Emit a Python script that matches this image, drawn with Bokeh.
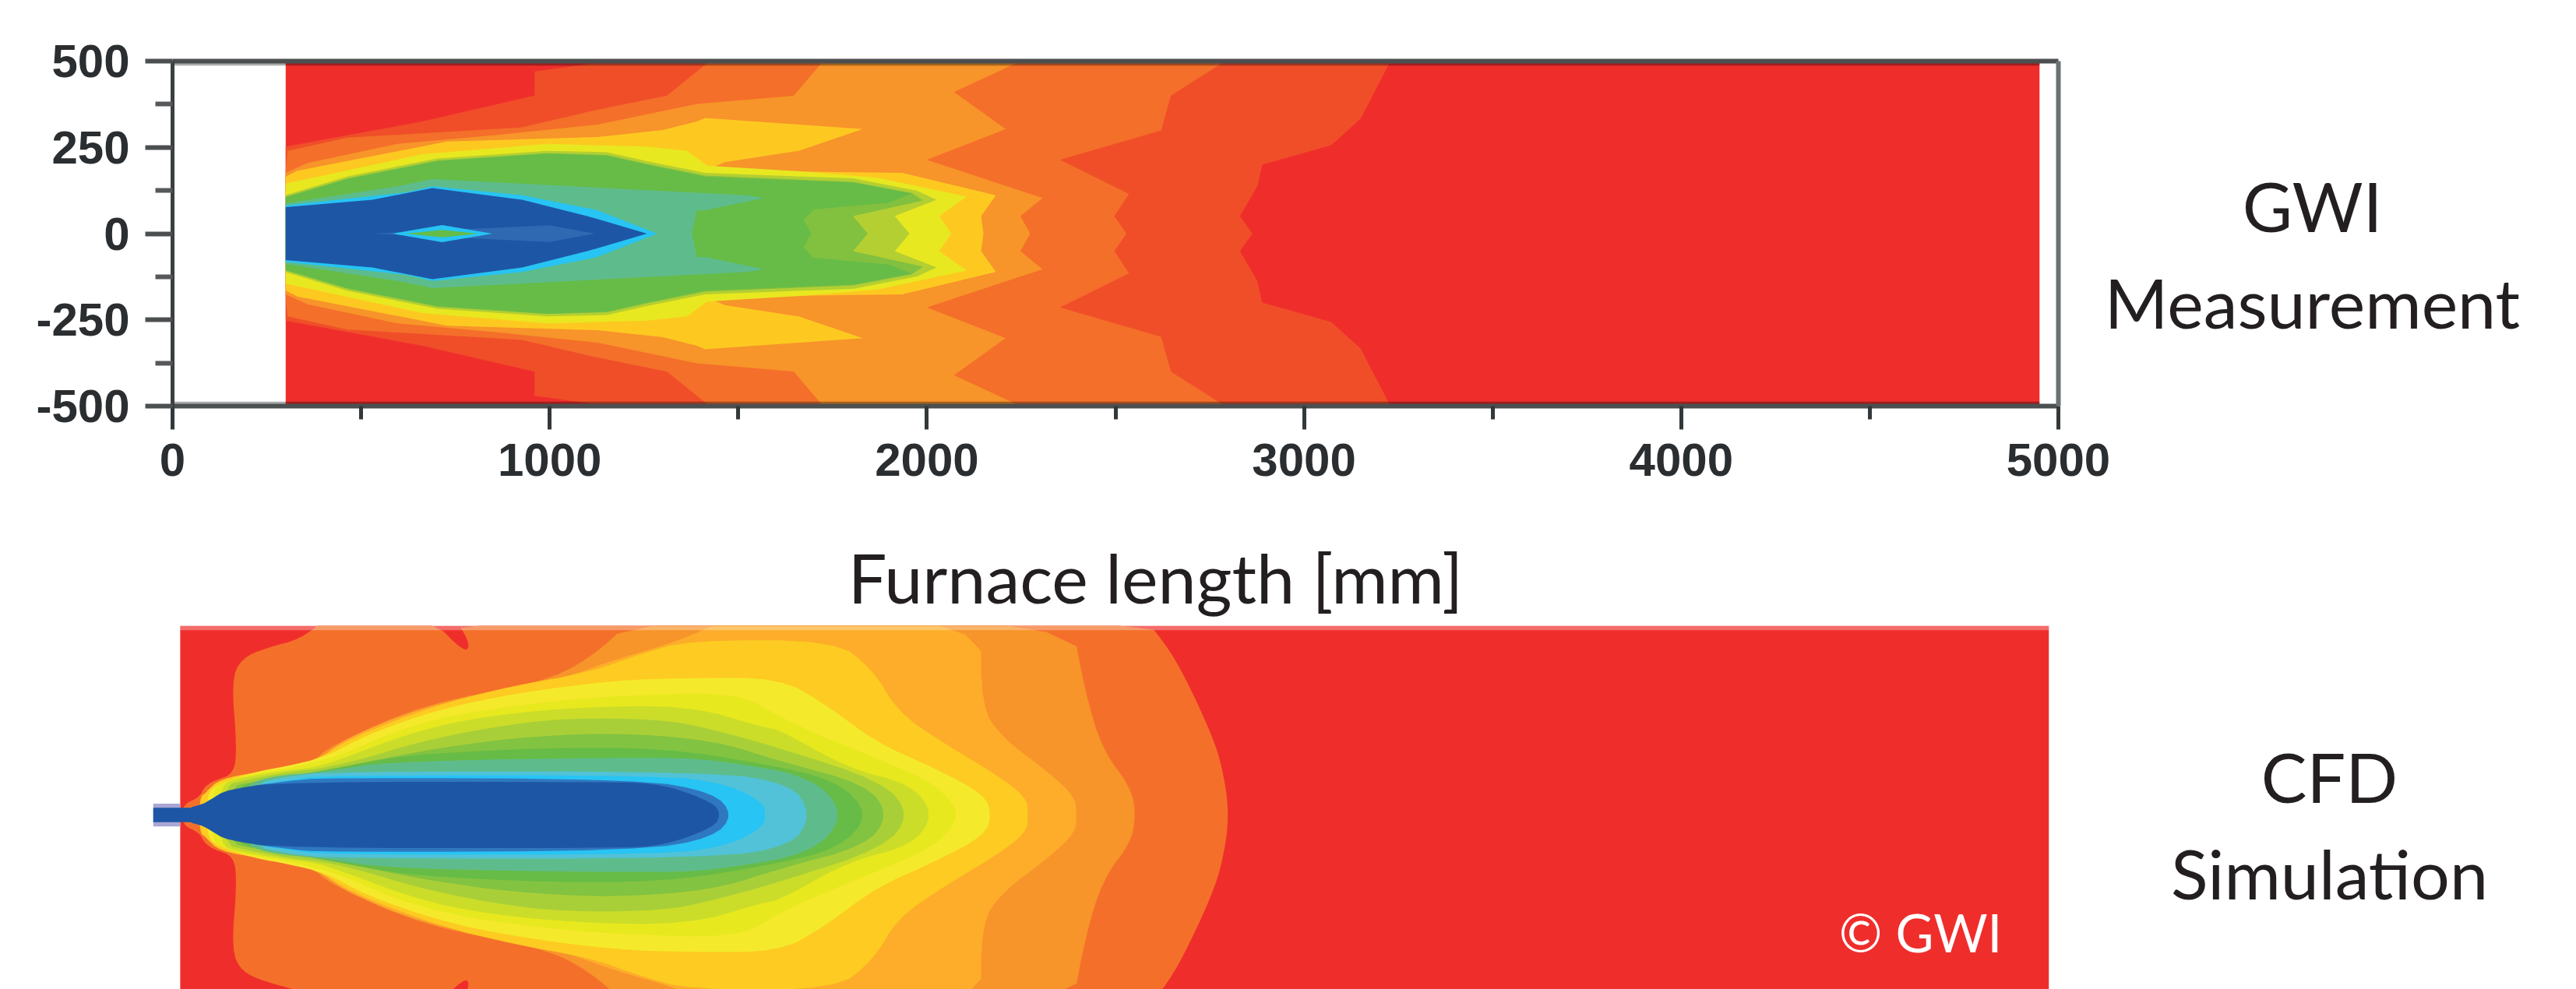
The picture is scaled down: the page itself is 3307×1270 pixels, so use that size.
from bokeh.plotting import figure
from bokeh.embed import file_html
from bokeh.resources import INLINE
from bokeh.layouts import column, row
from bokeh.models import LinearAxis, FixedTicker, Range1d
from bokeh.core.properties import value

# ---------- axis ticks ----------
x_major = [0, 1000, 2000, 3000, 4000, 5000]
x_minor = [500, 1500, 2500, 3500, 4500]
y_major = [-500, -250, 0, 250, 500]
y_minor = [-375, -125, 125, 375]
y_labels = {-500: "-500", -250: "-250", 0: "0", 250: "250", 500: "500"}

# ---------- GWI measurement: contour outlines, upper half (x mm, y mm) ----------
m_field_x = [300, 4950]
m_field_y = [-500, 500]
m1_x = [300, 662, 960, 960, 1132, 1300, 3229, 3150, 3072, 2889, 2876, 2830, 2863]
m1_y = [252, 325, 400, 470, 496, 500, 500, 333, 256, 200, 137, 51, 0]
m2_x = [300, 305, 464, 927, 1126, 1311, 1424, 2791, 2647, 2621, 2353, 2536, 2497, 2529]
m2_y = [184, 240, 278, 308, 359, 400, 500, 500, 400, 299, 214, 115, 51, 0]
m3_x = [300, 358, 596, 861, 1126, 1390, 1647, 1725, 2248, 2072, 2209, 2000, 2307, 2248, 2274]
m3_y = [176, 205, 260, 286, 316, 376, 400, 500, 500, 410, 303, 214, 103, 51, 0]
m4_x = [300, 331, 728, 1126, 1300, 1390, 1412, 1830, 1660, 1464, 1420, 1660, 1935, 2183, 2144, 2150]
m4_y = [165, 182, 267, 280, 300, 325, 335, 303, 240, 207, 186, 180, 176, 111, 51, 0]
m5_x = [300, 662, 993, 1258, 1364, 1417, 1673, 1869, 2105, 2033, 2065]
m5_y = [145, 230, 260, 252, 240, 197, 180, 162, 107, 51, 0]
m6_x = [300, 464, 702, 993, 1152, 1258, 1412, 1804, 1974, 2026, 1915, 1954]
m6_y = [112, 166, 218, 240, 236, 210, 176, 160, 124, 98, 51, 0]
m7_x = [300, 464, 702, 993, 1152, 1258, 1412, 1804, 1960, 1990, 1804, 1843]
m7_y = [107, 160, 212, 233, 228, 202, 168, 150, 118, 96, 51, 0]
m8_x = [300, 464, 702, 993, 1152, 1258, 1412, 1804, 1960, 1900, 1700, 1673, 1693]
m8_y = [105, 158, 210, 232, 226, 200, 165, 148, 116, 90, 70, 40, 0]
m9_x = [300, 596, 689, 993, 1523, 1569, 1412, 1390, 1377]
m9_y = [88, 137, 158, 141, 111, 103, 68, 68, 0]
m10_x = [300, 622, 689, 927, 1126, 1285]
m10_y = [82, 120, 137, 111, 68, 0]
m11_x = [300, 530, 689, 927, 1099, 1258]
m11_y = [77, 98, 132, 98, 51, 0]
m12_x = [530, 1000, 1120]
m12_y = [0, 24, 0]
m13_x = [583, 715, 848]
m13_y = [0, 25, 0]
m14_x = [620, 715, 810]
m14_y = [0, 11, 0]
m_colors = ["#F04E29", "#F46F2A", "#F7942A", "#FDC921", "#E8E820", "#B4CF32", "#82C040",
            "#66BC46", "#5EBC8C", "#27C4F4", "#1E56A6", "#2E69B2", "#27C4F4", "#66BC46"]

# ---------- CFD simulation: contour outlines, upper half (x mm, y mm) ----------
c_field_x = [20, 4975]
c_field_y = [-548, 548]
c1_x = [25, 71, 84, 110, 163, 170, 156, 183, 249, 341, 407, 683, 775, 789, 749, 2577, 2642, 2688, 2743, 2780, 2803]
c1_y = [29, 51, 81, 100, 119, 202, 390, 454, 484, 510, 570, 570, 469, 495, 570, 570, 480, 390, 262, 156, 0]
c2_x = [77, 117, 235, 367, 420, 670, 973, 1104, 1223, 2383, 2420, 2466, 2540, 2554]
c2_y = [51, 89, 126, 149, 202, 322, 382, 450, 570, 570, 352, 187, 81, 0]
c3_x = [77, 117, 229, 373, 446, 670, 881, 1039, 1171, 1342, 1473, 2144, 2144, 2199, 2328, 2393, 2397]
c3_y = [55, 96, 119, 141, 217, 315, 360, 397, 450, 503, 570, 570, 314, 224, 119, 51, 0]
c4_x = [71, 90, 123, 235, 380, 472, 709, 907, 1105, 1236, 1368, 1757, 1858, 1922, 2042, 2181, 2264, 2268]
c4_y = [51, 66, 104, 126, 156, 224, 322, 375, 413, 465, 506, 506, 420, 299, 209, 119, 51, 0]
c5_x = [90, 117, 222, 301, 407, 512, 709, 907, 1170, 1368, 1609, 1729, 1867, 2024, 2153, 2171]
c5_y = [59, 89, 126, 141, 168, 232, 307, 352, 390, 397, 397, 322, 209, 134, 59, 0]
c6_x = [104, 130, 229, 308, 446, 578, 749, 973, 1170, 1500, 1609, 1729, 1886, 2024, 2093]
c6_y = [70, 96, 123, 134, 172, 239, 292, 326, 345, 356, 284, 224, 156, 89, 0]
c7_x = [123, 183, 308, 380, 472, 617, 775, 1039, 1368, 1565, 1609, 1793, 1959, 2019]
c7_y = [89, 108, 130, 138, 172, 232, 277, 311, 318, 254, 247, 134, 89, 0]
c8_x = [137, 189, 314, 393, 512, 644, 841, 1039, 1302, 1434, 1609, 1886, 1955]
c8_y = [85, 100, 126, 134, 164, 209, 254, 281, 277, 247, 194, 96, 0]
c9_x = [150, 209, 393, 578, 709, 907, 1170, 1434, 1609, 1839, 1899]
c9_y = [81, 96, 126, 168, 194, 224, 239, 217, 156, 89, 0]
c10_x = [163, 222, 406, 591, 709, 973, 1302, 1565, 1763, 1849]
c10_y = [77, 96, 130, 168, 179, 194, 194, 149, 100, 0]
c11_x = [183, 249, 406, 578, 1302, 1460, 1697, 1784]
c11_y = [77, 111, 126, 156, 168, 156, 111, 0]
c12_x = [209, 301, 420, 1434, 1644, 1692]
c12_y = [89, 111, 126, 126, 89, 0]
c13_x = [209, 301, 400, 1302, 1473, 1565, 1572]
c13_y = [85, 100, 115, 115, 89, 36, 0]
c14_x = [170, 301, 400, 1236, 1434, 1486]
c14_y = [78, 98, 108, 104, 66, 0]
c15_x = [40, 77, 100, 143, 301, 1170, 1302, 1434, 1453]
c15_y = [21, 30, 44, 74, 96, 96, 89, 36, 0]
c_colors = ["#F4702A", "#F7942A", "#FDAD2A", "#FDCB21", "#F5E92B", "#E8E81F", "#CBDD29", "#A9CF38",
            "#82C341", "#66BC46", "#5EBC8C", "#52C2D8", "#27C4F4", "#2F78C0", "#1E56A6"]
nozzle_x = [-52, 20]
nozzle_core_y = [-21, 21]
nozzle_fringe_y = [-33, 33]
nozzle_tip_x = [20, 90]

# ---------- texts ----------
axis_title = "Furnace length [mm]"
label_measure = ["GWI", "Measurement"]
label_cfd = ["CFD", "Simulation"]
copyright_text = "© GWI"

RED = "#EF2E2C"
FONT = "Lato"
INK = "#231F20"


def mirror(xs, ys):
    return list(xs) + list(xs[-2::-1]), list(ys) + [-v for v in ys[-2::-1]]


def rounded(xs, ys, passes=2):
    # corner cutting of a closed outline, so the CFD contours draw as curves
    for _ in range(passes):
        nx, ny = [], []
        n = len(xs)
        for i in range(n):
            j = (i + 1) % n
            nx += [0.75 * xs[i] + 0.25 * xs[j], 0.25 * xs[i] + 0.75 * xs[j]]
            ny += [0.75 * ys[i] + 0.25 * ys[j], 0.25 * ys[i] + 0.75 * ys[j]]
        xs, ys = nx, ny
    return xs, ys


def blank(width, height, xr, yr, **kw):
    f = figure(width=width, height=height, output_backend="svg", toolbar_location=None,
               x_range=Range1d(*xr), y_range=Range1d(*yr), x_axis_location=None, y_axis_location=None,
               min_border=0, outline_line_color=None, border_fill_color=None,
               background_fill_color=None, frame_align=False, **kw)
    f.grid.visible = False
    return f


def words(fig, s, x, y, size, color=INK):
    fig.text([x], [y], text=[s], text_font=value(FONT), text_font_size=f"{size}px", text_color=color,
             text_align="center", text_baseline="middle")


# ---------- measurement panel ----------
p = figure(width=2712, height=660, output_backend="svg", toolbar_location=None,
           x_range=Range1d(0, 5000), y_range=Range1d(-500, 500),
           x_axis_location=None, y_axis_location=None, frame_align=False,
           min_border_left=221, min_border_right=70, min_border_top=78, min_border_bottom=139,
           background_fill_color="white", border_fill_color="white", outline_line_color=None)
p.grid.visible = False

p.quad(left=m_field_x[0], right=m_field_x[1], bottom=m_field_y[0], top=m_field_y[1],
       color=RED, line_color=None)
m_levels = [(m1_x, m1_y), (m2_x, m2_y), (m3_x, m3_y), (m4_x, m4_y), (m5_x, m5_y), (m6_x, m6_y), (m7_x, m7_y),
            (m8_x, m8_y), (m9_x, m9_y), (m10_x, m10_y), (m11_x, m11_y), (m12_x, m12_y), (m13_x, m13_y),
            (m14_x, m14_y)]
for (lx, ly), col in zip(m_levels, m_colors):
    px, py = mirror(lx, ly)
    p.patch(px, py, color=col, line_color=None)

# dark translucent strips along the frame of the scanned plot
p.quad(left=0, right=m_field_x[1], bottom=487, top=500, color="black", alpha=0.33, line_color=None)
p.quad(left=0, right=m_field_x[1], bottom=-500, top=-487, color="black", alpha=0.33, line_color=None)

LAB = dict(major_label_text_font="Liberation Sans", major_label_text_font_style="bold",
           major_label_text_font_size="60px", major_label_text_color="#2b2e30")
bottom = LinearAxis(ticker=FixedTicker(ticks=x_major, minor_ticks=x_minor), axis_line_color="#4c4f50",
                    axis_line_width=6, major_tick_line_color="#33383a", major_tick_line_width=5,
                    major_tick_out=30, major_tick_in=0, minor_tick_line_color="#33383a",
                    minor_tick_line_width=5, minor_tick_out=17, minor_tick_in=0,
                    major_label_standoff=18, **LAB)
left = LinearAxis(ticker=FixedTicker(ticks=y_major, minor_ticks=y_minor), axis_line_color="#3a3f40",
                  axis_line_width=5, major_tick_line_color="#4c4f50", major_tick_line_width=6,
                  major_tick_out=35, major_tick_in=0, minor_tick_line_color="#55595a",
                  minor_tick_line_width=6, minor_tick_out=22, minor_tick_in=0,
                  major_label_standoff=20, major_label_overrides=y_labels, **LAB)
top = LinearAxis(ticker=FixedTicker(ticks=[]), axis_line_color="#4c4f50", axis_line_width=6,
                 major_tick_line_color=None, minor_tick_line_color=None, major_label_text_color=None)
right = LinearAxis(ticker=FixedTicker(ticks=[]), axis_line_color="#6b7274", axis_line_width=6,
                   major_tick_line_color=None, minor_tick_line_color=None, major_label_text_color=None)
p.add_layout(bottom, "below")
p.add_layout(left, "left")
p.add_layout(top, "above")
p.add_layout(right, "right")

# the side panel starts a little left of the end of the plot's canvas, and is transparent
side_top = blank(617, 660, (2690, 3307), (660, 0), margin=(0, 0, 0, -22))
words(side_top, label_measure[0], 2968, 263, 88)
words(side_top, label_measure[1], 2968, 387, 88)

# ---------- axis title strip ----------
title_strip = blank(3307, 140, (0, 3307), (800, 660))
words(title_strip, axis_title, 1483, 740, 88)

# ---------- CFD panel ----------
q = figure(width=2760, height=470, output_backend="svg", toolbar_location=None,
           x_range=Range1d(nozzle_x[0], c_field_x[1]), y_range=Range1d(-505, 548),
           x_axis_location=None, y_axis_location=None, frame_align=False,
           min_border_left=196, min_border_right=130, min_border_top=3, min_border_bottom=0,
           background_fill_color="white", border_fill_color="white", outline_line_color=None)
q.grid.visible = False

q.quad(left=c_field_x[0], right=c_field_x[1], bottom=c_field_y[0], top=c_field_y[1],
       color=RED, line_color=None)
c_levels = [(c1_x, c1_y), (c2_x, c2_y), (c3_x, c3_y), (c4_x, c4_y), (c5_x, c5_y), (c6_x, c6_y), (c7_x, c7_y),
            (c8_x, c8_y), (c9_x, c9_y), (c10_x, c10_y), (c11_x, c11_y), (c12_x, c12_y), (c13_x, c13_y),
            (c14_x, c14_y), (c15_x, c15_y)]
for (lx, ly), col in zip(c_levels, c_colors):
    px, py = rounded(*mirror(lx, ly))
    q.patch(px, py, color=col, line_color=None)
q.quad(left=nozzle_x[0], right=nozzle_x[1], bottom=nozzle_fringe_y[0], top=nozzle_fringe_y[1],
       color="#A9A6D3", line_color=None)
q.quad(left=nozzle_x[0], right=nozzle_tip_x[1], bottom=nozzle_core_y[0], top=nozzle_core_y[1],
       color="#1E56A6", line_color=None)
# pale strip along the top edge of the scanned plot
q.quad(left=c_field_x[0], right=c_field_x[1], bottom=535, top=548, color="white", alpha=0.3, line_color=None)
scale_x = (c_field_x[1] - nozzle_x[0]) / (2630 - 196)
words(q, copyright_text, nozzle_x[0] + (2465 - 196) * scale_x, (1046 - 1196) / 0.4435, 67, "white")

side_bottom = blank(547, 470, (2760, 3307), (1270, 800))
words(side_bottom, label_cfd[0], 2990, 996, 88)
words(side_bottom, label_cfd[1], 2990, 1120, 88)

page = column(row(p, side_top, spacing=0), title_strip, row(q, side_bottom, spacing=0), spacing=0)
open("out.html", "w").write(file_html(page, INLINE))
